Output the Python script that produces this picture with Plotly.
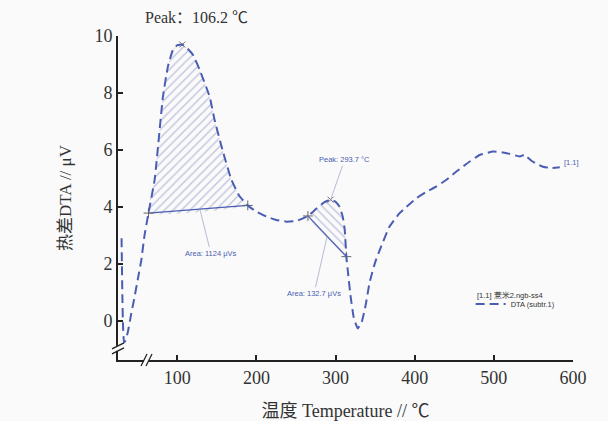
import plotly.graph_objects as go

# DTA curve (temperature in °C, signal in µV)
temp = [29.5, 30.5, 31.5, 32.7, 34.5, 37.5, 41.8, 45.2, 50.0, 54.5, 58.5, 63.5,
        71.3, 81.8, 88.1, 94.4, 100.0, 106.2, 112.0, 119.7, 128.2, 140.8, 147.0,
        157.0, 168.3, 178.0, 189.0, 200.0, 212.5, 225.0, 237.8, 250.0, 265.0,
        275.0, 285.0, 293.7, 300.0, 305.0, 309.0, 311.5, 313.6, 316.0, 319.0,
        323.0, 328.0, 333.0, 338.0, 343.0, 350.0, 356.0, 368.0, 380.0, 389.5,
        402.0, 414.8, 427.0, 440.0, 452.7, 470.0, 482.0, 499.0, 510.0, 520.0,
        532.7, 539.0, 542.0, 547.5, 555.0, 562.0, 572.8, 583.3]
dta = [2.90, 0.90, -0.30, -0.76, -0.70, -0.39, 0.26, 0.73, 1.45, 2.13, 3.00, 3.78,
       4.95, 7.87, 8.93, 9.51, 9.68, 9.70, 9.58, 9.34, 8.81, 7.87, 7.06,
       6.00, 4.95, 4.40, 4.05, 3.83, 3.66, 3.54, 3.48, 3.50, 3.68,
       3.92, 4.15, 4.25, 4.18, 4.00, 3.65, 3.20, 2.25, 1.60, 0.85,
       0.10, -0.27, -0.05, 0.55, 1.35, 2.05, 2.50, 3.30, 3.75, 4.00,
       4.30, 4.53, 4.71, 4.95, 5.24, 5.60, 5.82, 5.94, 5.92, 5.86,
       5.77, 5.83, 5.75, 5.62, 5.50, 5.41, 5.36, 5.39]

# integration limits of the two evaluated effects
area1_lim = (63.5, 189.0)
area2_lim = (265.0, 313.6)
peak1 = (106.2, 9.70)
peak2 = (293.7, 4.25)
area1_text = "Area: 1124 μVs"
area2_text = "Area: 132.7 μVs"

x_ticks = [100, 200, 300, 400, 500, 600]
y_ticks = [0, 2, 4, 6, 8, 10]

BLUE = "#4b5db3"
HATCH = "#8990c2"
BG = "#fafafa"
SERIF = "Liberation Serif, Noto Sans CJK SC, serif"
SANS = "Liberation Sans, Arial, sans-serif"


def segment(lim):
    i0 = temp.index(lim[0])
    i1 = temp.index(lim[1])
    return temp[i0:i1 + 1], dta[i0:i1 + 1]


fig = go.Figure()

for lim, shape in ((area1_lim, "/"), (area2_lim, "\\")):
    sx, sy = segment(lim)
    # hatched region between curve and the integration baseline
    fig.add_trace(go.Scatter(
        x=sx + [sx[0]], y=sy + [sy[0]], mode="lines", fill="toself",
        line=dict(width=0, shape="spline", smoothing=0.4),
        fillcolor="rgba(0,0,0,0)",
        fillpattern=dict(shape=shape, fgcolor=HATCH, bgcolor="rgba(0,0,0,0)",
                         size=6, solidity=0.24),
        hoverinfo="skip", showlegend=False))
    # baseline with end markers
    fig.add_trace(go.Scatter(
        x=[sx[0], sx[-1]], y=[sy[0], sy[-1]], mode="lines+markers",
        line=dict(color=BLUE, width=1.2),
        marker=dict(symbol="cross-thin", size=7, line=dict(color="#666", width=1)),
        hoverinfo="skip", showlegend=False))

# peak markers
fig.add_trace(go.Scatter(
    x=[peak1[0], peak2[0]], y=[peak1[1], peak2[1]], mode="markers",
    marker=dict(symbol="x-thin", size=6, line=dict(color="#777", width=1)),
    hoverinfo="skip", showlegend=False))

# DTA curve
fig.add_trace(go.Scatter(
    x=temp, y=dta, mode="lines", name="DTA (subtr.1)",
    line=dict(color=BLUE, width=2, dash="9px,5px", shape="spline", smoothing=0.4)))

arrow = dict(showarrow=True, arrowhead=0, arrowwidth=0.7, arrowcolor="#9aa0c0")
small = dict(family=SANS, size=7.5, color=BLUE)
annotations = [
    dict(x=peak1[0] + 18, y=1.058, xref="x", yref="paper", yanchor="middle",
         text=f"Peak：{peak1[0]} ℃", showarrow=False,
         font=dict(family=SERIF, size=16, color="#333")),
    dict(x=peak2[0], y=peak2[1], xref="x", yref="y",
         text=f"Peak: {peak2[0]} °C", ax=14, ay=-40, font=small, **arrow),
    dict(x=128.4, y=3.92, xref="x", yref="y", text=area1_text,
         ax=11, ay=44, font=small, **arrow),
    dict(x=289.3, y=2.965, xref="x", yref="y", text=area2_text,
         ax=-13, ay=57, font=small, **arrow),
    dict(x=temp[-1] + 3, y=dta[-1] + 0.15, xref="x", yref="y", text="[1.1]",
         showarrow=False, xanchor="left", font=dict(family=SANS, size=7.5, color=BLUE)),
    # legend heading
    dict(x=0.7846, y=0.2006, xref="paper", yref="paper", xanchor="left",
         yanchor="middle", text="[1.1] 薏米2.ngb-ss4", showarrow=False,
         font=dict(family=SANS, size=7.5, color="#333")),
]

# axis break marks
shapes = []
y_break = -0.97
x_break = 61.0
shapes.append(dict(type="rect", xref="paper", yref="y", xsizemode="pixel",
                   ysizemode="pixel", xanchor=0, yanchor=y_break,
                   x0=-3, x1=3, y0=-2.5, y1=2.5, fillcolor=BG, line=dict(width=0),
                   layer="above"))
for dy in (-2.5, 2.5):
    shapes.append(dict(type="line", xref="paper", yref="y", xsizemode="pixel",
                       ysizemode="pixel", xanchor=0, yanchor=y_break,
                       x0=-6, x1=6, y0=dy - 3, y1=dy + 3,
                       line=dict(color="#222", width=1.3), layer="above"))
shapes.append(dict(type="rect", xref="x", yref="paper", xsizemode="pixel",
                   ysizemode="pixel", xanchor=x_break, yanchor=0,
                   x0=-2.5, x1=2.5, y0=-3, y1=3, fillcolor=BG, line=dict(width=0),
                   layer="above"))
for dx in (-2.5, 2.5):
    shapes.append(dict(type="line", xref="x", yref="paper", xsizemode="pixel",
                       ysizemode="pixel", xanchor=x_break, yanchor=0,
                       x0=dx - 3, x1=dx + 3, y0=-6, y1=6,
                       line=dict(color="#222", width=1.3), layer="above"))

fig.update_layout(
    width=608, height=421,
    margin=dict(l=118, r=35, t=36, b=61),
    paper_bgcolor=BG, plot_bgcolor=BG,
    showlegend=True,
    legend=dict(x=0.775, y=0.173, xanchor="left", yanchor="middle",
                bgcolor="rgba(0,0,0,0)",
                font=dict(family=SANS, size=7.5, color="#333"),
                itemwidth=30, tracegroupgap=0),
    annotations=annotations,
    shapes=shapes,
    xaxis=dict(range=[25, 600], tickvals=x_ticks, ticks="inside", ticklen=5,
               tickwidth=1.5, tickcolor="#222", showline=True, linecolor="#222",
               linewidth=2, showgrid=False, zeroline=False, automargin=False,
               tickfont=dict(family=SERIF, size=18, color="#333"),
               title=dict(text="温度 Temperature // ℃", standoff=18,
                          font=dict(family=SERIF, size=18, color="#333"))),
    yaxis=dict(range=[-1.38, 10], tickvals=y_ticks, ticks="inside", ticklen=5,
               tickwidth=1.5, tickcolor="#222", showline=True, linecolor="#222",
               linewidth=2, showgrid=False, zeroline=False, automargin=False,
               tickfont=dict(family=SERIF, size=18, color="#333"),
               title=dict(text="热差DTA // μV", standoff=18,
                          font=dict(family=SERIF, size=17, color="#333"))),
)

fig.write_html("out.html")
